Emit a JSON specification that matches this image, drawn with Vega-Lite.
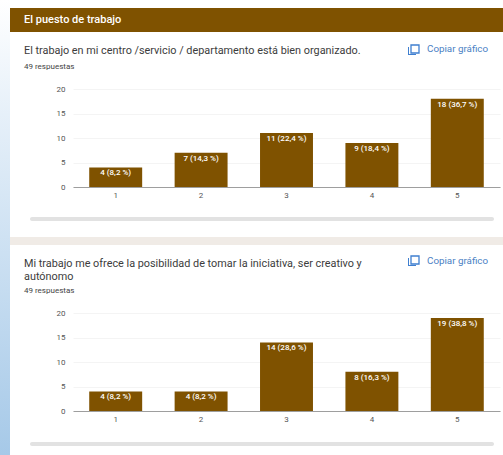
{
"$schema":"https://vega.github.io/schema/vega-lite/v6.json",
"padding":0,"background":"#ffffff","spacing":0,
"config":{"view":{"stroke":null},"font":"Roboto","concat":{"spacing":0}},
"hconcat":[
{"width":10,"height":455,"data":{"values":[{"s":"fondo"}]},
 "mark":{"type":"rect","color":{"gradient":"linear","x1":0,"y1":0,"x2":0,"y2":1,"stops":[{"offset":0,"color":"#ffffff"},{"offset":0.25,"color":"#e6f0f9"},{"offset":1,"color":"#a6c9e8"}]}},
 "encoding":{"x":{"value":0},"x2":{"value":10},"y":{"value":0},"y2":{"value":455}}},
{"vconcat":[
 {"width":427,"height":44,"data":{"values":[{"t":"El puesto de trabajo"}]},
  "layer":[
   {"mark":{"type":"rect","color":"#7f5200"},"encoding":{"x":{"value":-63},"x2":{"value":430},"y":{"value":8},"y2":{"value":32}}},
   {"mark":{"type":"text","align":"left","baseline":"middle","color":"#ffffff","fontSize":11,"fontWeight":500},"encoding":{"x":{"value":-49},"y":{"value":20},"text":{"field":"t"}}}
  ]},
 {"width":427,"height":98,
  "title":{"text":"El trabajo en mi centro /servicio / departamento está bien organizado.","subtitle":"49 respuestas","anchor":"start","frame":"group","dx":-49,"offset":-27,"fontSize":10.85,"fontWeight":400,"color":"#3c3c3c","subtitleFontSize":8,"subtitleColor":"#444444","subtitlePadding":7},
  "data":{"values":[
   {"opcion":"1","respuestas":4,"etiqueta":"4 (8,2 %)"},
   {"opcion":"2","respuestas":7,"etiqueta":"7 (14,3 %)"},
   {"opcion":"3","respuestas":11,"etiqueta":"11 (22,4 %)"},
   {"opcion":"4","respuestas":9,"etiqueta":"9 (18,4 %)"},
   {"opcion":"5","respuestas":18,"etiqueta":"18 (36,7 %)"}]},
  "encoding":{"x":{"field":"opcion","type":"ordinal","title":null,"scale":{"paddingInner":0.38,"paddingOuter":0.19},
      "axis":{"labelAngle":0,"labelFontSize":8,"labelColor":"#555555","ticks":false,"domainColor":"#9e9e9e","labelPadding":4}},
     "y":{"field":"respuestas","type":"quantitative","title":null,"scale":{"domain":[0,20]},
      "axis":{"values":[0,5,10,15,20],"tickCount":5,"labelOverlap":false,"labelFontSize":8,"labelColor":"#555555","ticks":false,"domain":false,"gridColor":"#f4f4f4","labelPadding":8,"minExtent":63}}},
  "layer":[
   {"mark":{"type":"bar","color":"#7f5200"}},
   {"mark":{"type":"text","color":"#ffffff","fontSize":8,"fontWeight":500,"baseline":"top","dy":2},
    "encoding":{"text":{"field":"etiqueta"}}},
   {"data":{"values":[{"t":"Copiar gráfico"}]},"mark":{"type":"text","align":"left","baseline":"middle","color":"#4a7fc4","fontSize":9.8},"encoding":{"x":{"value":354},"y":{"value":-40},"text":{"field":"t"}}},
   {"data":{"values":[{"t":"icono"}]},"mark":{"type":"rect","filled":false,"stroke":"#3f7fd0","strokeWidth":1.3},"encoding":{"x":{"value":338},"x2":{"value":346},"y":{"value":-44},"y2":{"value":-36}}},
   {"data":{"values":[{"t":"icono"}]},"mark":{"type":"rect","color":"#3f7fd0"},"encoding":{"x":{"value":335},"x2":{"value":336},"y":{"value":-42},"y2":{"value":-34}}},
   {"data":{"values":[{"t":"icono"}]},"mark":{"type":"rect","color":"#3f7fd0"},"encoding":{"x":{"value":335},"x2":{"value":343},"y":{"value":-35},"y2":{"value":-34}}},
   {"data":{"values":[{"t":"barra"}]},"mark":{"type":"rect","color":"#e2e2e2","cornerRadius":2},"encoding":{"x":{"value":-43},"x2":{"value":421},"y":{"value":128},"y2":{"value":132}}}
  ]},
 {"width":427,"height":34,"data":{"values":[{"t":"separador"}]},
  "mark":{"type":"rect","color":"#f0ebe6"},"encoding":{"x":{"value":-63},"x2":{"value":430},"y":{"value":16},"y2":{"value":24}}},
 {"width":427,"height":98,
  "title":{"text":["Mi trabajo me ofrece la posibilidad de tomar la iniciativa, ser creativo y","autónomo"],"subtitle":"49 respuestas","anchor":"start","frame":"group","dx":-49,"offset":-40,"fontSize":10.85,"fontWeight":400,"color":"#3c3c3c","lineHeight":13,"subtitleFontSize":8,"subtitleColor":"#444444","subtitlePadding":6},
  "data":{"values":[
   {"opcion":"1","respuestas":4,"etiqueta":"4 (8,2 %)"},
   {"opcion":"2","respuestas":4,"etiqueta":"4 (8,2 %)"},
   {"opcion":"3","respuestas":14,"etiqueta":"14 (28,6 %)"},
   {"opcion":"4","respuestas":8,"etiqueta":"8 (16,3 %)"},
   {"opcion":"5","respuestas":19,"etiqueta":"19 (38,8 %)"}]},
  "encoding":{"x":{"field":"opcion","type":"ordinal","title":null,"scale":{"paddingInner":0.38,"paddingOuter":0.19},
      "axis":{"labelAngle":0,"labelFontSize":8,"labelColor":"#555555","ticks":false,"domainColor":"#9e9e9e","labelPadding":4}},
     "y":{"field":"respuestas","type":"quantitative","title":null,"scale":{"domain":[0,20]},
      "axis":{"values":[0,5,10,15,20],"tickCount":5,"labelOverlap":false,"labelFontSize":8,"labelColor":"#555555","ticks":false,"domain":false,"gridColor":"#f4f4f4","labelPadding":8,"minExtent":63}}},
  "layer":[
   {"mark":{"type":"bar","color":"#7f5200"}},
   {"mark":{"type":"text","color":"#ffffff","fontSize":8,"fontWeight":500,"baseline":"top","dy":2},
    "encoding":{"text":{"field":"etiqueta"}}},
   {"data":{"values":[{"t":"Copiar gráfico"}]},"mark":{"type":"text","align":"left","baseline":"middle","color":"#4a7fc4","fontSize":9.8},"encoding":{"x":{"value":354},"y":{"value":-52},"text":{"field":"t"}}},
   {"data":{"values":[{"t":"icono"}]},"mark":{"type":"rect","filled":false,"stroke":"#3f7fd0","strokeWidth":1.3},"encoding":{"x":{"value":338},"x2":{"value":346},"y":{"value":-57},"y2":{"value":-49}}},
   {"data":{"values":[{"t":"icono"}]},"mark":{"type":"rect","color":"#3f7fd0"},"encoding":{"x":{"value":335},"x2":{"value":336},"y":{"value":-55},"y2":{"value":-47}}},
   {"data":{"values":[{"t":"icono"}]},"mark":{"type":"rect","color":"#3f7fd0"},"encoding":{"x":{"value":335},"x2":{"value":343},"y":{"value":-48},"y2":{"value":-47}}},
   {"data":{"values":[{"t":"barra"}]},"mark":{"type":"rect","color":"#e2e2e2","cornerRadius":2},"encoding":{"x":{"value":-43},"x2":{"value":421},"y":{"value":129},"y2":{"value":133}}}
  ]}
 ]}
]}
